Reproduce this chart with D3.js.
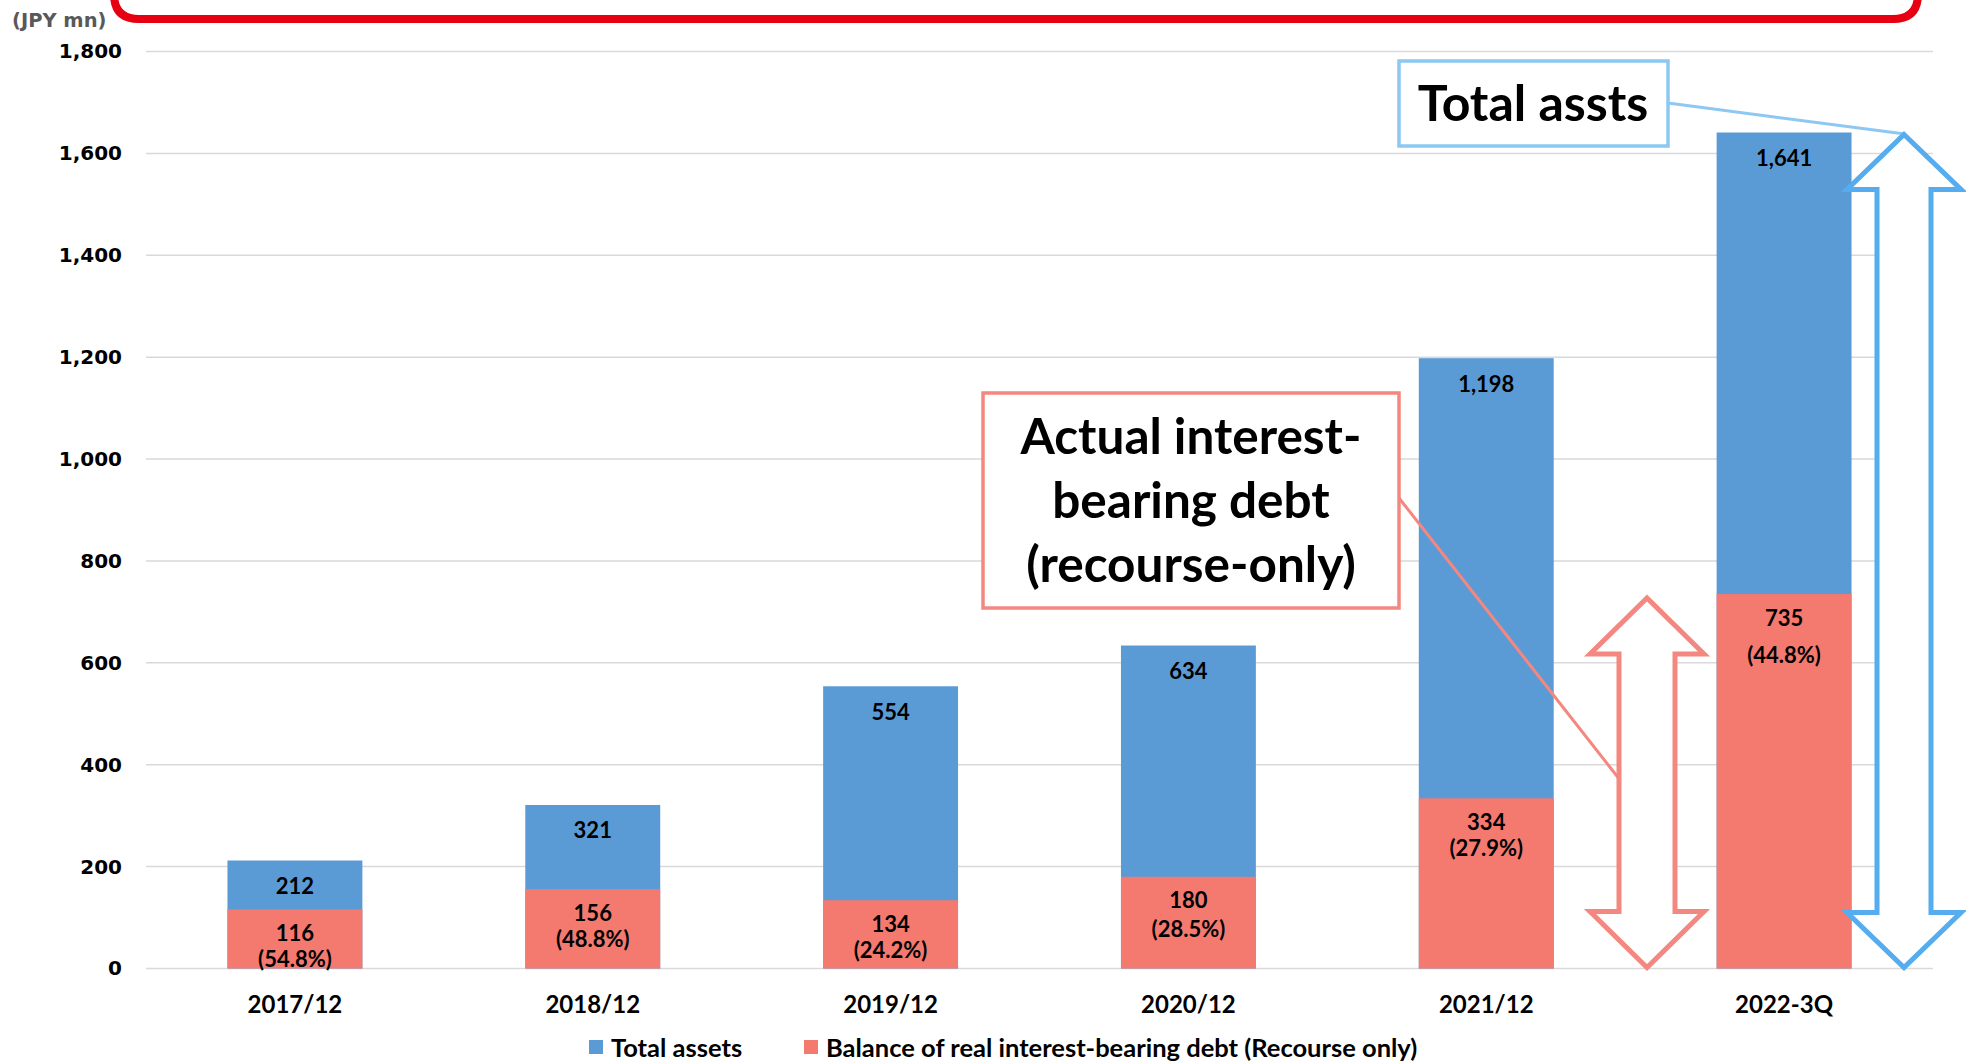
<!DOCTYPE html>
<html>
<head>
<meta charset="utf-8">
<script src="https://cdn.jsdelivr.net/npm/d3@7"></script>
<style>
  html, body { margin: 0; padding: 0; background: #fff; }
  svg { display: block; }
</style>
</head>
<body>
<svg id="chart" width="1966" height="1064"></svg>
<script>
// data
const categories = ['2017/12', '2018/12', '2019/12', '2020/12', '2021/12', '2022-3Q'];
const totalAssets = [212, 321, 554, 634, 1198, 1641];
const recourseDebt = [116, 156, 134, 180, 334, 735];
const debtRatioLabels = ['(54.8%)', '(48.8%)', '(24.2%)', '(28.5%)', '(27.9%)', '(44.8%)'];
const yTicks = [0, 200, 400, 600, 800, 1000, 1200, 1400, 1600, 1800];
const seriesNames = ['Total assets', 'Balance of real interest-bearing debt (Recourse only)'];

// layout: gap between the debt value and its % line, per bar
const pctGap = [26, 26, 26, 29, 26, 37];

const BLUE = '#5B9BD5';
const RED = '#F4796F';
const FONT = 'Lato, "Open Sans", sans-serif';

const svg = d3.select('#chart');

const x = d3.scaleBand()
  .domain(categories)
  .range([146, 1933])
  .paddingInner(0.547)
  .paddingOuter(0.2735);

const y = d3.scaleLinear()
  .domain([0, 1800])
  .range([968.5, 51.5]);

// title box (only the bottom edge is in view)
svg.append('path')
  .attr('d', 'M114,-100 L114,-6 Q114,19 139,19 L1893,19 Q1918,19 1918,-6 L1918,-100')
  .attr('fill', 'none')
  .attr('stroke', '#E60012')
  .attr('stroke-width', 8);

// unit label
svg.append('text')
  .attr('x', 12).attr('y', 27)
  .text('(JPY mn)')
  .style('font-family', '"DejaVu Sans", Verdana, sans-serif')
  .style('font-weight', 'bold')
  .style('font-size', '19.5px')
  .style('fill', '#595959');

// grid lines
svg.append('g')
  .selectAll('line')
  .data(yTicks)
  .enter().append('line')
  .attr('x1', 146).attr('x2', 1933)
  .attr('y1', d => y(d)).attr('y2', d => y(d))
  .attr('stroke', '#D9D9D9')
  .attr('stroke-width', 1.5);

// y axis labels
const yAxis = svg.append('g')
  .attr('transform', 'translate(140,0)')
  .call(d3.axisLeft(y).tickValues(yTicks).tickSize(0).tickPadding(18).tickFormat(d3.format(',')));
yAxis.select('.domain').remove();
yAxis.selectAll('text')
  .style('font-family', '"DejaVu Sans", Verdana, sans-serif')
  .style('font-weight', 'bold')
  .style('font-size', '20px')
  .style('fill', '#000');

// x axis labels
const xAxis = svg.append('g')
  .attr('transform', `translate(0,${y(0)})`)
  .call(d3.axisBottom(x).tickSize(0).tickPadding(27));
xAxis.select('.domain').remove();
xAxis.selectAll('text')
  .style('font-family', FONT)
  .style('font-weight', 'bold')
  .style('font-size', '24px')
  .style('fill', '#000');

// bars: total assets behind, debt in front from zero
svg.append('g')
  .selectAll('rect')
  .data(categories)
  .enter().append('rect')
  .attr('x', d => x(d))
  .attr('width', x.bandwidth())
  .attr('y', (d, i) => y(totalAssets[i]))
  .attr('height', (d, i) => y(0) - y(totalAssets[i]))
  .attr('fill', BLUE);

svg.append('g')
  .selectAll('rect')
  .data(categories)
  .enter().append('rect')
  .attr('x', d => x(d))
  .attr('width', x.bandwidth())
  .attr('y', (d, i) => y(recourseDebt[i]))
  .attr('height', (d, i) => y(0) - y(recourseDebt[i]))
  .attr('fill', RED);

// value labels
const labelStyle = sel => sel
  .attr('text-anchor', 'middle')
  .attr('dominant-baseline', 'central')
  .style('font-family', FONT)
  .style('font-weight', 'bold')
  .style('font-size', '22px')
  .style('fill', '#000');

const cx = d => x(d) + x.bandwidth() / 2;

svg.append('g').selectAll('text')
  .data(categories)
  .enter().append('text')
  .attr('x', cx)
  .attr('y', (d, i) => y(totalAssets[i]) + 25)
  .text((d, i) => d3.format(',')(totalAssets[i]))
  .call(labelStyle);

svg.append('g').selectAll('text')
  .data(categories)
  .enter().append('text')
  .attr('x', cx)
  .attr('y', (d, i) => y(recourseDebt[i]) + 23)
  .text((d, i) => d3.format(',')(recourseDebt[i]))
  .call(labelStyle);

svg.append('g').selectAll('text')
  .data(categories)
  .enter().append('text')
  .attr('x', cx)
  .attr('y', (d, i) => y(recourseDebt[i]) + 23 + pctGap[i])
  .text((d, i) => debtRatioLabels[i])
  .call(labelStyle);

// double-headed outline arrow between two values
function doubleArrow(cxA, top, bottom, headHalf, shaftHalf, headLen, color) {
  const pts = [
    [cxA, top],
    [cxA + headHalf, top + headLen],
    [cxA + shaftHalf, top + headLen],
    [cxA + shaftHalf, bottom - headLen],
    [cxA + headHalf, bottom - headLen],
    [cxA, bottom],
    [cxA - headHalf, bottom - headLen],
    [cxA - shaftHalf, bottom - headLen],
    [cxA - shaftHalf, top + headLen],
    [cxA - headHalf, top + headLen]
  ];
  svg.append('path')
    .attr('d', d3.line()(pts) + 'Z')
    .attr('fill', '#fff')
    .attr('stroke', color)
    .attr('stroke-width', 5)
    .attr('stroke-linejoin', 'miter');
}

// debt annotation
svg.append('line')
  .attr('x1', 1399).attr('y1', 498)
  .attr('x2', 1620).attr('y2', 780)
  .attr('stroke', '#F4877F')
  .attr('stroke-width', 3);

doubleArrow(1647, y(recourseDebt[5]) + 4, y(0) - 1, 57, 28, 56, '#F4877F');

svg.append('rect')
  .attr('x', 983).attr('y', 393)
  .attr('width', 416).attr('height', 215)
  .attr('fill', '#fff')
  .attr('stroke', '#F4877F')
  .attr('stroke-width', 3.5);

const debtNote = svg.append('text')
  .attr('text-anchor', 'middle')
  .style('font-family', FONT)
  .style('font-weight', 'bold')
  .style('font-size', '49.5px')
  .style('fill', '#000');
['Actual interest-', 'bearing debt', '(recourse-only)'].forEach((t, i) => {
  debtNote.append('tspan').attr('x', 1191).attr('y', 454 + i * 64).text(t);
});

// total assets annotation
svg.append('line')
  .attr('x1', 1668).attr('y1', 103)
  .attr('x2', 1905).attr('y2', 134)
  .attr('stroke', '#8DC8F2')
  .attr('stroke-width', 3);

doubleArrow(1904, y(totalAssets[5]) + 2, y(0) - 1, 57, 27, 55, '#55ACEE');

svg.append('rect')
  .attr('x', 1399).attr('y', 61)
  .attr('width', 269).attr('height', 85)
  .attr('fill', '#fff')
  .attr('stroke', '#8DC8F2')
  .attr('stroke-width', 3.5);

svg.append('text')
  .attr('x', 1533).attr('y', 121)
  .attr('text-anchor', 'middle')
  .text('Total assts')
  .style('font-family', FONT)
  .style('font-weight', 'bold')
  .style('font-size', '50px')
  .style('fill', '#000');

// legend
const legendItems = [
  { name: seriesNames[0], color: BLUE, x: 589 },
  { name: seriesNames[1], color: RED, x: 804 }
];
const legend = svg.append('g').selectAll('g')
  .data(legendItems)
  .enter().append('g')
  .attr('transform', d => `translate(${d.x},1047)`);
legend.append('rect')
  .attr('x', 0).attr('y', -7)
  .attr('width', 14).attr('height', 14)
  .attr('fill', d => d.color);
legend.append('text')
  .attr('x', 22)
  .attr('dominant-baseline', 'central')
  .text(d => d.name)
  .style('font-family', FONT)
  .style('font-weight', 'bold')
  .style('font-size', '25.5px')
  .style('fill', '#000');
</script>
</body>
</html>
